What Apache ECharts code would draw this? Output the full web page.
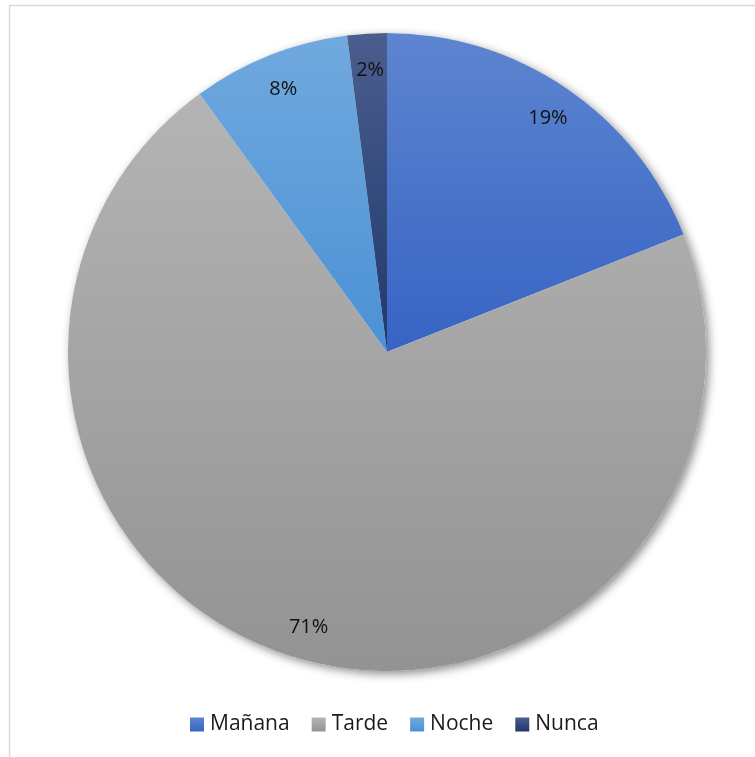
<!DOCTYPE html>
<html>
<head>
<meta charset="utf-8">
<script src="https://cdn.jsdelivr.net/npm/echarts@6/dist/echarts.min.js"></script>
<style>
  html, body { margin: 0; padding: 0; background: #fff; }
  #chart { width: 755px; height: 757px; }
</style>
</head>
<body>
<div id="chart"></div>
<script>
// Time of day categories and their shares (percent)
const categories = ['Mañana', 'Tarde', 'Noche', 'Nunca'];
const shares = [19, 71, 8, 2];

// Vertical gradient stops per slice: [top, bottom]
const sliceColors = [
  ['#5d85d0', '#3763c3'],
  ['#b4b4b4', '#939393'],
  ['#70a9de', '#4b91d5'],
  ['#4b5e8e', '#1f386c']
];

function grad(pair) {
  return new echarts.graphic.LinearGradient(0, 0, 0, 1, [
    { offset: 0, color: pair[0] },
    { offset: 1, color: pair[1] }
  ]);
}

const pieData = categories.map((name, i) => ({
  name: name,
  value: shares[i],
  itemStyle: { color: grad(sliceColors[i]) }
}));

const center = [387, 352];
const R = 319;
const fontStack = 'Open Sans, Liberation Sans, sans-serif';

const chart = echarts.init(document.getElementById('chart'), null, { renderer: 'canvas' });
chart.setOption({
  animation: false,
  graphic: [{
    type: 'rect',
    shape: { x: 9.5, y: 5.5, width: 800, height: 800 },
    style: { fill: 'none', stroke: '#d9d9d9', lineWidth: 1.5 },
    z: -10
  }],
  legend: {
    bottom: 17,
    left: 185,
    itemWidth: 14,
    itemHeight: 14,
    itemGap: 22,
    icon: 'rect',
    textStyle: { fontFamily: fontStack, fontSize: 21, color: '#1a1a1a', padding: [0, 0, 0, 1] },
    data: categories
  },
  series: [
    {
      // soft drop shadow under the whole disc
      type: 'pie',
      center: center,
      radius: [0, R],
      silent: true,
      label: { show: false },
      labelLine: { show: false },
      legendHoverLink: false,
      z: 1,
      data: [{ name: '_shadow', value: 1, itemStyle: { color: '#ffffff', shadowBlur: 10, shadowColor: 'rgba(0,0,0,0.45)', shadowOffsetX: 3, shadowOffsetY: 3 } }],
      tooltip: { show: false }
    },
    {
      type: 'pie',
      center: center,
      radius: [0, R],
      startAngle: 90,
      clockwise: true,
      z: 2,
      itemStyle: { borderWidth: 0 },
      label: { show: false },
      labelLine: { show: false },
      emphasis: { disabled: true },
      data: pieData
    },
    {
      // transparent ring that carries the percentage labels near the rim
      type: 'pie',
      center: center,
      radius: [244, R],
      startAngle: 90,
      clockwise: true,
      silent: true,
      z: 3,
      legendHoverLink: false,
      itemStyle: { color: 'rgba(0,0,0,0)', borderWidth: 0 },
      label: {
        show: true,
        position: 'inside',
        formatter: p => p.value + '%',
        fontFamily: fontStack,
        fontSize: 20,
        color: '#111',
        offset: [1, 2]
      },
      labelLine: { show: false },
      emphasis: { disabled: true },
      data: categories.map((name, i) => ({ name: name, value: shares[i] }))
    }
  ]
});
</script>
</body>
</html>
